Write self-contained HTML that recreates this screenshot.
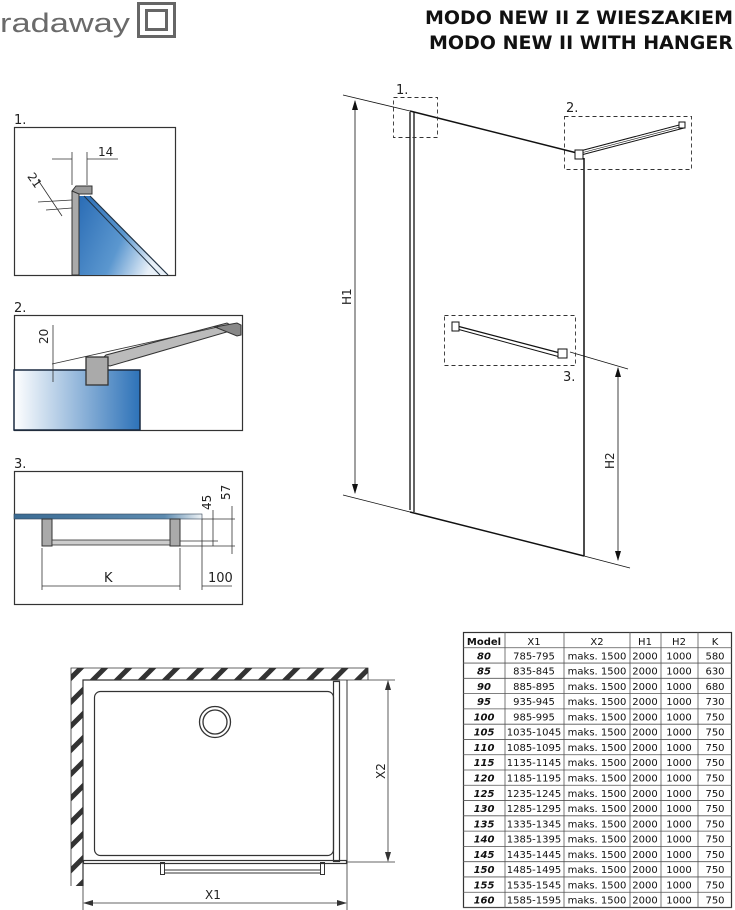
<!DOCTYPE html>
<html><head><meta charset="utf-8"><style>
html,body{margin:0;padding:0;background:#fff;}
svg{display:block;}
text{font-family:"DejaVu Sans","Liberation Sans",sans-serif;}
</style></head><body>
<svg width="735" height="910" viewBox="0 0 735 910" xmlns="http://www.w3.org/2000/svg">
<defs>
<linearGradient id="gb" x1="0" y1="0" x2="1" y2="0">
<stop offset="0" stop-color="#ffffff"/><stop offset="1" stop-color="#2d72b8"/></linearGradient>
<linearGradient id="g1" x1="0" y1="0" x2="1" y2="0.4">
<stop offset="0" stop-color="#2a6cb5"/><stop offset="0.6" stop-color="#5b97cf"/><stop offset="1" stop-color="#e8f0f8"/></linearGradient>
<linearGradient id="g3" x1="0" y1="0" x2="1" y2="0">
<stop offset="0" stop-color="#3b6c94"/><stop offset="0.8" stop-color="#5d8bb0"/><stop offset="1" stop-color="#eef2f5"/></linearGradient>
<pattern id="hatch" patternUnits="userSpaceOnUse" width="17" height="17" patternTransform="rotate(45)">
<rect width="17" height="17" fill="#fff"/><rect x="0" y="0" width="5" height="17" fill="#333"/></pattern>
</defs>

<!-- logo -->
<text x="0" y="32" style="font-family:'Liberation Sans',sans-serif;font-size:27px" fill="#6a6a6a" textLength="130" lengthAdjust="spacingAndGlyphs">radaway</text>
<rect x="138.5" y="3.5" width="36" height="33" fill="none" stroke="#666" stroke-width="3"/>
<rect x="146.5" y="10.5" width="20" height="19" fill="none" stroke="#666" stroke-width="3"/>

<!-- title -->
<text x="733" y="24" font-size="19" font-weight="bold" text-anchor="end" fill="#111">MODO NEW II Z WIESZAKIEM</text>
<text x="733" y="49" font-size="19" font-weight="bold" text-anchor="end" fill="#111">MODO NEW II WITH HANGER</text>

<!-- panel 1 -->
<text x="14" y="124" font-size="13" fill="#222">1.</text>
<rect x="14.5" y="127.5" width="161" height="148" fill="#fff" stroke="#333" stroke-width="1.2"/>
<polygon points="79,196 90,196 168,275 79,275" fill="url(#g1)"/>
<line x1="84" y1="196" x2="160" y2="275" stroke="#234" stroke-width="1"/>
<line x1="90" y1="196" x2="168" y2="275" stroke="#234" stroke-width="1.2"/>
<rect x="72" y="191" width="7" height="84" fill="#aaa" stroke="#333" stroke-width="1"/>
<polygon points="72,191 76,186 92,186 92,194 79,194" fill="#999" stroke="#333" stroke-width="1"/>
<line x1="72" y1="152" x2="72" y2="185" stroke="#333" stroke-width="0.8"/>
<line x1="87" y1="152" x2="87" y2="185" stroke="#333" stroke-width="0.8"/>
<line x1="52" y1="159" x2="72" y2="159" stroke="#333" stroke-width="0.8"/>
<line x1="87" y1="159" x2="118" y2="159" stroke="#333" stroke-width="0.8"/>
<text x="98" y="156" font-size="12" fill="#222">14</text>
<line x1="38" y1="180" x2="62" y2="216" stroke="#333" stroke-width="0.8"/>
<line x1="38" y1="202" x2="72" y2="200" stroke="#333" stroke-width="0.8"/>
<line x1="46" y1="210" x2="72" y2="208" stroke="#333" stroke-width="0.8"/>
<text x="26" y="178" font-size="12" fill="#222" transform="rotate(55 28 178)">21</text>

<!-- panel 2 -->
<text x="14" y="312" font-size="13" fill="#222">2.</text>
<rect x="14.5" y="315.5" width="228" height="115" fill="#fff" stroke="#333" stroke-width="1.2"/>
<rect x="14" y="370" width="126" height="60" fill="url(#gb)" stroke="#1a2a40" stroke-width="1.5"/>
<polygon points="98,363 106,355 227,323 237,329 110,366" fill="#bbb" stroke="#333" stroke-width="1"/>
<polygon points="215,327 237,323 241,325 241,335 237,336" fill="#888" stroke="#333" stroke-width="1"/>
<line x1="52" y1="364" x2="218" y2="327" stroke="#333" stroke-width="0.8"/>
<rect x="86" y="357" width="22" height="28" fill="#aaa" stroke="#333" stroke-width="1.3"/>
<line x1="53" y1="325" x2="53" y2="382" stroke="#333" stroke-width="0.8"/>
<text x="48" y="344" font-size="12" fill="#222" transform="rotate(-90 48 344)">20</text>

<!-- panel 3 -->
<text x="14" y="468" font-size="13" fill="#222">3.</text>
<rect x="14.5" y="471.5" width="228" height="133" fill="#fff" stroke="#333" stroke-width="1.2"/>
<rect x="14" y="514" width="188" height="5" fill="url(#g3)" stroke="#345" stroke-width="0.6"/>
<rect x="42" y="519" width="10" height="27" fill="#aaa" stroke="#333"/>
<rect x="170" y="519" width="10" height="27" fill="#aaa" stroke="#333"/>
<rect x="52" y="540" width="118" height="5" fill="#ccc" stroke="#333" stroke-width="0.8"/>
<line x1="202" y1="519" x2="235" y2="519" stroke="#333" stroke-width="0.8"/>
<line x1="180" y1="541" x2="218" y2="541" stroke="#333" stroke-width="0.8"/>
<line x1="180" y1="546" x2="235" y2="546" stroke="#333" stroke-width="0.8"/>
<line x1="213" y1="510" x2="213" y2="546" stroke="#333" stroke-width="0.8"/>
<line x1="232" y1="506" x2="232" y2="554" stroke="#333" stroke-width="0.8"/>
<text x="211" y="510" font-size="12" fill="#222" transform="rotate(-90 211 510)">45</text>
<text x="230" y="500" font-size="12" fill="#222" transform="rotate(-90 230 500)">57</text>
<line x1="42" y1="548" x2="42" y2="590" stroke="#333" stroke-width="0.8"/>
<line x1="180" y1="548" x2="180" y2="590" stroke="#333" stroke-width="0.8"/>
<line x1="202" y1="519" x2="202" y2="590" stroke="#333" stroke-width="0.8"/>
<line x1="42" y1="586" x2="180" y2="586" stroke="#333" stroke-width="0.8"/>
<line x1="202" y1="586" x2="232" y2="586" stroke="#333" stroke-width="0.8"/>
<text x="104" y="582" font-size="13" fill="#222">K</text>
<text x="208" y="582" font-size="13" fill="#222">100</text>

<!-- main view -->
<g stroke="#111" fill="none">
<line x1="343" y1="95" x2="410" y2="111" stroke-width="0.8"/>
<line x1="410" y1="111" x2="577" y2="153" stroke-width="1.5"/>
<line x1="410" y1="112" x2="410" y2="510" stroke-width="1.3"/>
<line x1="414" y1="112" x2="414" y2="512" stroke-width="1.3"/>
<line x1="584" y1="158" x2="584" y2="556" stroke-width="1.5"/>
<line x1="343" y1="495" x2="410" y2="512" stroke-width="0.8"/>
<line x1="410" y1="512" x2="584" y2="556" stroke-width="1.5"/>
<line x1="584" y1="556" x2="630" y2="568" stroke-width="0.8"/>
<line x1="355" y1="101" x2="355" y2="493" stroke-width="0.8"/>
<line x1="618" y1="368" x2="618" y2="560" stroke-width="0.8"/>
<line x1="570" y1="352" x2="628" y2="369" stroke-width="0.8"/>
<g stroke-dasharray="4,3" stroke-width="0.9" stroke="#333">
<rect x="393.5" y="97.5" width="44" height="40"/>
<rect x="564.5" y="116.5" width="127" height="53"/>
<rect x="444.5" y="315.5" width="131" height="50"/>
</g>
<line x1="580" y1="151" x2="683" y2="124" stroke-width="1"/>
<line x1="581" y1="155" x2="684" y2="128" stroke-width="1"/>
<line x1="581" y1="153" x2="684" y2="126" stroke-width="0.6"/>
<rect x="575" y="150" width="8" height="9" fill="#fff" stroke-width="1"/>
<rect x="679" y="122" width="6" height="6" fill="#fff" stroke-width="1"/>
<line x1="457" y1="326" x2="560" y2="353" stroke-width="1.3"/>
<line x1="457" y1="329" x2="560" y2="357" stroke-width="1"/>
<rect x="452" y="322" width="7" height="9" fill="#fff" stroke-width="1"/>
<rect x="558" y="349" width="9" height="9" fill="#fff" stroke-width="1"/>
</g>
<polygon points="355,100 352,110 358,110" fill="#111"/>
<polygon points="355,494 352,484 358,484" fill="#111"/>
<polygon points="618,367 615,377 621,377" fill="#111"/>
<polygon points="618,561 615,551 621,551" fill="#111"/>
<text x="396" y="94" font-size="13" fill="#222">1.</text>
<text x="566" y="112" font-size="13" fill="#222">2.</text>
<text x="563" y="381" font-size="13" fill="#222">3.</text>
<text x="351" y="305" font-size="12" fill="#222" transform="rotate(-90 351 305)">H1</text>
<text x="614" y="469" font-size="12" fill="#222" transform="rotate(-90 614 469)">H2</text>

<!-- plan view -->
<rect x="71" y="668" width="297" height="12" fill="url(#hatch)"/>
<rect x="71" y="668" width="12" height="218" fill="url(#hatch)"/>
<g fill="none" stroke="#333">
<polyline points="71,886 71,668 368,668 368,680" stroke-width="0.8"/>
<polyline points="83,886 83,680 340,680" stroke-width="1.2"/>
<rect x="94.5" y="691.5" width="239" height="164" rx="6" stroke-width="1.2"/>
<circle cx="215" cy="722" r="15.5" stroke-width="1.3"/>
<circle cx="215" cy="722" r="12" stroke-width="1.3"/>
<rect x="333.5" y="681.5" width="6" height="180" stroke-width="1.2"/>
<line x1="340" y1="680" x2="347" y2="680" stroke-width="0.8"/>
<line x1="347" y1="680" x2="347" y2="864"/>
<rect x="83.5" y="860.5" width="263" height="3" stroke-width="1.2"/>
<rect x="160.5" y="862.5" width="4" height="12" stroke-width="1"/>
<rect x="320.5" y="862.5" width="4" height="12" stroke-width="1"/>
<line x1="164" y1="870" x2="320" y2="870"/>
<line x1="164" y1="873" x2="320" y2="873"/>
<line x1="347" y1="680" x2="395" y2="680" stroke-width="0.8"/>
<line x1="347" y1="862" x2="395" y2="862" stroke-width="0.8"/>
<line x1="388" y1="681" x2="388" y2="861" stroke-width="0.8"/>
<line x1="83" y1="864" x2="83" y2="910" stroke-width="0.8"/>
<line x1="347" y1="864" x2="347" y2="910" stroke-width="0.8"/>
<line x1="84" y1="903" x2="346" y2="903" stroke-width="0.8"/>
</g>
<polygon points="388,680 385,690 391,690" fill="#333"/>
<polygon points="388,862 385,852 391,852" fill="#333"/>
<polygon points="83,903 93,900 93,906" fill="#333"/>
<polygon points="347,903 337,900 337,906" fill="#333"/>
<text x="205" y="899" font-size="12" fill="#222">X1</text>
<text x="385" y="779" font-size="12" fill="#222" transform="rotate(-90 385 779)">X2</text>

<!-- table -->
<g font-size="10" fill="#111" text-anchor="middle">
<rect x="463.5" y="632.5" width="268" height="275" fill="#fff" stroke="#333" stroke-width="1.2"/>
<g stroke="#555" stroke-width="0.8">
<line x1="505" y1="632" x2="505" y2="908"/><line x1="564" y1="632" x2="564" y2="908"/>
<line x1="630" y1="632" x2="630" y2="908"/><line x1="661" y1="632" x2="661" y2="908"/>
<line x1="698" y1="632" x2="698" y2="908"/>
</g>
<g stroke="#555" stroke-width="0.8" id="hl"></g>
<text x="484" y="645" font-weight="bold">Model</text><text x="534" y="645">X1</text><text x="597" y="645">X2</text><text x="645" y="645">H1</text><text x="679" y="645">H2</text><text x="715" y="645">K</text>
</g>
<g id="rows" font-size="10" fill="#111" text-anchor="middle"></g>
<script>
var rows=[["80","785-795","580"],["85","835-845","630"],["90","885-895","680"],["95","935-945","730"],["100","985-995","750"],["105","1035-1045","750"],["110","1085-1095","750"],["115","1135-1145","750"],["120","1185-1195","750"],["125","1235-1245","750"],["130","1285-1295","750"],["135","1335-1345","750"],["140","1385-1395","750"],["145","1435-1445","750"],["150","1485-1495","750"],["155","1535-1545","750"],["160","1585-1595","750"]];
var ns="http://www.w3.org/2000/svg",g=document.getElementById("rows"),hl=document.getElementById("hl");
var h=275/18;
for(var i=0;i<=17;i++){var y=632.5+h*(i+1);var l=document.createElementNS(ns,"line");l.setAttribute("x1",463);l.setAttribute("x2",732);l.setAttribute("y1",y);l.setAttribute("y2",y);hl.appendChild(l);}
rows.forEach(function(r,i){var y=632.5+h*(i+1)+11.5;
var c=[[484,r[0]],[534,r[1]],[597,"maks. 1500"],[645,"2000"],[679,"1000"],[715,r[2]]];
c.forEach(function(v,j){var t=document.createElementNS(ns,"text");t.setAttribute("x",v[0]);t.setAttribute("y",y);t.textContent=v[1];if(j==0){t.setAttribute("font-weight","bold");t.setAttribute("font-style","italic");}g.appendChild(t);});});
</script>
</svg>
</body></html>
